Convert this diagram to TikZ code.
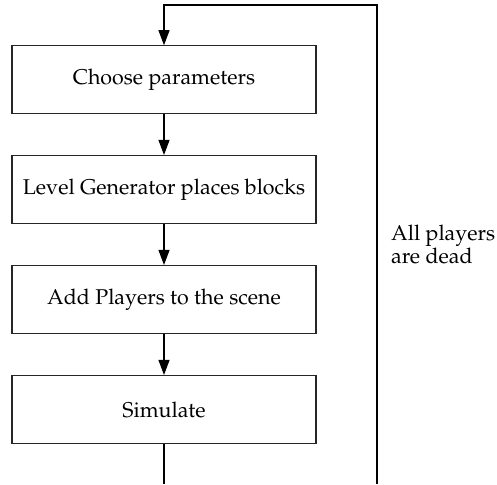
\documentclass[tikz,border=0pt]{standalone}
\usepackage[T1]{fontenc}
\usepackage{mathpazo}
\usetikzlibrary{arrows.meta}
\tikzset{
  stepbox/.style={draw=black!85, line width=1.1pt, minimum width=304pt, minimum height=68pt,
    inner sep=0pt, font=\fontsize{21.4}{19}\selectfont},
  flow/.style={line width=1.1pt, -{Triangle[length=15pt,width=11pt]}},
  plain/.style={line width=1.1pt},
}
\begin{document}
\begin{tikzpicture}[x=1pt,y=-1pt]
  \useasboundingbox (0,0) rectangle (497,484);
  \node[stepbox] (b1) at (164,79.75) {Choose parameters};
  \node[stepbox] (b2) at (164,189.5) {Level Generator places blocks};
  \node[stepbox] (b3) at (164,299.5) {Add Players to the scene};
  \node[stepbox] (b4) at (164,409.5) {Simulate};
  \coordinate (bot) at (164,484);
  \coordinate (rb) at (377,484);
  \coordinate (rt) at (377,5);
  \node[anchor=base west, align=left, inner sep=0pt, font=\fontsize{21.4}{19}\selectfont] (lbl) at (391,263) {All players\\are dead};
  \draw[flow] (b1) -- (b2);
  \draw[flow] (b2) -- (b3);
  \draw[flow] (b3) -- (b4);
  \draw[plain] (b4) -- (bot);
  \draw[flow] (rb) -- (rt) -| (b1.north);
\end{tikzpicture}
\end{document}
